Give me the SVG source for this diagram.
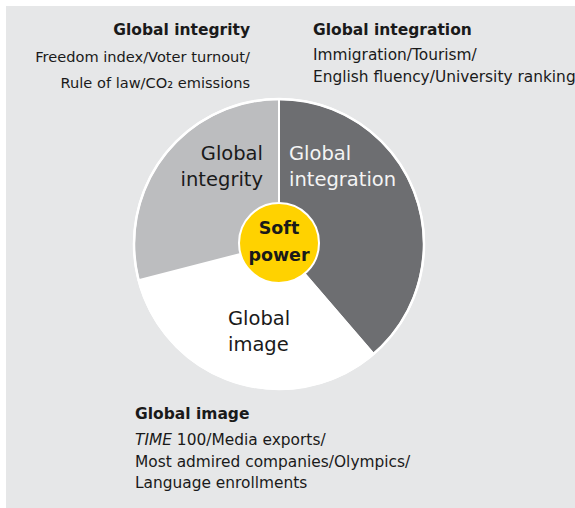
<svg xmlns="http://www.w3.org/2000/svg" width="575" height="508" viewBox="0 0 575 508">
  <style>
    text { font-family: "DejaVu Sans", "Liberation Sans", sans-serif; fill: #1a1a1a; }
    .hd { font-size: 15.5px; font-weight: bold; }
    .bd { font-size: 15.4px; }
    .bl { font-size: 14.6px; }
    .pl { font-size: 19.5px; }
    .sp { font-size: 17.5px; font-weight: bold; }
    .seg { stroke: #ffffff; stroke-width: 2; stroke-linejoin: round; }
  </style>
  <rect x="0" y="0" width="575" height="508" fill="#ffffff"/>
  <rect x="6" y="6" width="569" height="502" fill="#e6e7e8"/>

  <g id="pie">
    <g id="seg-integration">
      <path class="seg" d="M279,244 L279,99 A145,145 0 0 1 373.5,353.9 Z" fill="#6d6e71"/>
    </g>
    <g id="seg-image">
      <path class="seg" d="M279,244 L373.5,353.9 A145,145 0 0 1 138.6,280.3 Z" fill="#ffffff"/>
    </g>
    <g id="seg-integrity">
      <path class="seg" d="M279,244 L138.6,280.3 A145,145 0 0 1 279,99 Z" fill="#bcbdbf"/>
    </g>
    <circle cx="279" cy="244" r="145" fill="none" stroke="#ffffff" stroke-width="2.5"/>
  </g>

  <g id="label-integrity">
    <text class="pl" x="263" y="160" text-anchor="end">Global</text>
    <text class="pl" x="263" y="186" text-anchor="end">integrity</text>
  </g>
  <g id="label-integration">
    <text class="pl" x="289" y="160" style="fill:#f4f4f4">Global</text>
    <text class="pl" x="289" y="186" style="fill:#f4f4f4">integration</text>
  </g>
  <g id="label-image">
    <text class="pl" x="228" y="325">Global</text>
    <text class="pl" x="228" y="351">image</text>
  </g>

  <g id="soft-power">
    <circle cx="279" cy="243" r="40" fill="#ffd200" stroke="#ffffff" stroke-width="2"/>
    <text class="sp" x="279" y="234" text-anchor="middle">Soft</text>
    <text class="sp" x="279" y="261" text-anchor="middle">power</text>
  </g>

  <g id="note-integrity">
    <text class="hd" x="250" y="35" text-anchor="end">Global integrity</text>
    <text class="bl" x="250" y="61.5" text-anchor="end">Freedom index/Voter turnout/</text>
    <text class="bl" x="250" y="88" text-anchor="end">Rule of law/CO₂ emissions</text>
  </g>
  <g id="note-integration">
    <text class="hd" x="313" y="35">Global integration</text>
    <text class="bd" x="313" y="60">Immigration/Tourism/</text>
    <text class="bd" x="313" y="81.5">English fluency/University ranking</text>
  </g>
  <g id="note-image">
    <text class="hd" x="135" y="419">Global image</text>
    <text class="bd" x="135" y="445"><tspan font-style="italic">TIME</tspan> 100/Media exports/</text>
    <text class="bd" x="135" y="467">Most admired companies/Olympics/</text>
    <text class="bd" x="135" y="488">Language enrollments</text>
  </g>
</svg>
